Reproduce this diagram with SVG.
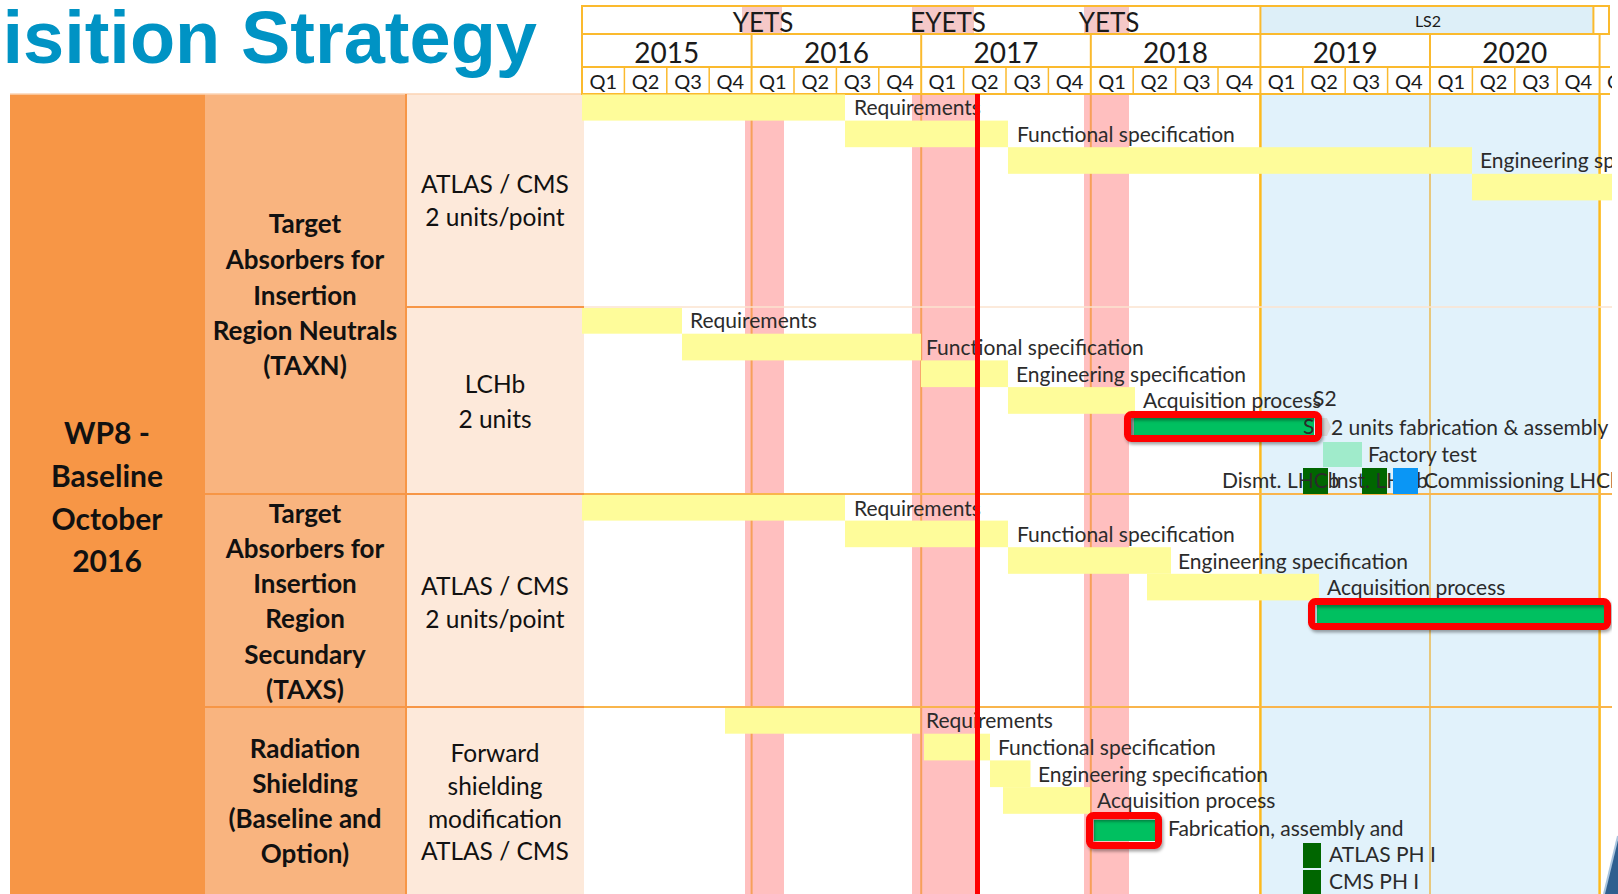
<svg xmlns="http://www.w3.org/2000/svg" width="1618" height="894" viewBox="0 0 1618 894">
  <defs>
    <style>
      .title { font-family: "Liberation Sans", Arial, sans-serif; font-weight: bold; font-size: 74px; fill: #0093C4; }
      .yets { font-family: Lato, "Liberation Sans", sans-serif; font-size: 26px; fill: #1a1a1a; text-anchor: middle; }
      .ls2 { font-family: Lato, "Liberation Sans", sans-serif; font-size: 16px; fill: #1a1a1a; text-anchor: middle; }
      .year { font-family: Lato, "Liberation Sans", sans-serif; font-size: 28px; fill: #1a1a1a; text-anchor: middle; }
      .qtr { font-family: Lato, "Liberation Sans", sans-serif; font-size: 20px; fill: #1a1a1a; text-anchor: middle; }
      .c1 { font-family: Lato, "Liberation Sans", sans-serif; font-weight: bold; font-size: 30px; fill: #111; text-anchor: middle; }
      .c2 { font-family: Lato, "Liberation Sans", sans-serif; font-weight: bold; font-size: 26px; fill: #111; text-anchor: middle; }
      .c3 { font-family: Lato, "Liberation Sans", sans-serif; font-size: 24.5px; fill: #111; text-anchor: middle; }
      .gl { font-family: Lato, "Liberation Sans", sans-serif; font-size: 21px; fill: #2b2b2b; }
      .bar { fill: #FEFC9A; }
      .shut { fill: #FFBFBF; }
      .shuthdr { fill: #F5C8C8; }
      .hline { stroke: #FBBA2E; stroke-width: 2; }
      .qline { stroke: #FBBA2E; stroke-width: 1.5; }
      .yline { stroke: #F7A05A; stroke-width: 2; }
      .gold { stroke: #FDBA1E; stroke-width: 2.5; }
      .tline { stroke: #F79646; stroke-width: 2; }
      .fab { fill: #00C060; }
      .box { fill: none; stroke: #FF0000; stroke-width: 7; filter: url(#shadow); }
      .dk { fill: #006600; }
    </style>
    <filter id="shadow" x="-10%" y="-40%" width="120%" height="180%">
      <feDropShadow dx="1.5" dy="2.5" stdDeviation="1.5" flood-color="#000" flood-opacity="0.35"/>
    </filter>
    <clipPath id="chart">
      <rect x="581" y="0" width="1031" height="894"/>
    </clipPath>
  </defs>

  <rect x="0" y="0" width="1618" height="894" fill="#ffffff"/>

  <!-- slide title -->
  <g id="title">
    <text class="title" x="537" y="63" text-anchor="end">isition Strategy</text>
  </g>

  <!-- left-hand work package table -->
  <g id="wp8">
    <rect x="10" y="94" width="195" height="800" fill="#F79646"/>
    <text class="c1" x="107" y="444">WP8 -</text>
    <text class="c1" x="107" y="487">Baseline</text>
    <text class="c1" x="107" y="530">October</text>
    <text class="c1" x="107" y="572">2016</text>
  </g>

  <g id="taxn">
    <rect x="205" y="94" width="201" height="400" fill="#F9B47F"/>
    <text class="c2" x="305" y="233">Target</text>
    <text class="c2" x="305" y="269">Absorbers for</text>
    <text class="c2" x="305" y="305">Insertion</text>
    <text class="c2" x="305" y="340">Region Neutrals</text>
    <text class="c2" x="305" y="375">(TAXN)</text>
  </g>

  <g id="taxn-atlas-cms">
    <rect x="406" y="94" width="178" height="213" fill="#FDE9DA"/>
    <text class="c3" x="495" y="193">ATLAS / CMS</text>
    <text class="c3" x="495" y="226">2 units/point</text>
  </g>

  <g id="taxn-lchb">
    <rect x="406" y="307" width="178" height="187" fill="#FDE9DA"/>
    <text class="c3" x="495" y="393">LCHb</text>
    <text class="c3" x="495" y="428">2 units</text>
  </g>

  <g id="taxs">
    <rect x="205" y="494" width="201" height="213" fill="#F9B47F"/>
    <text class="c2" x="305" y="523">Target</text>
    <text class="c2" x="305" y="558">Absorbers for</text>
    <text class="c2" x="305" y="593">Insertion</text>
    <text class="c2" x="305" y="628">Region</text>
    <text class="c2" x="305" y="664">Secundary</text>
    <text class="c2" x="305" y="699">(TAXS)</text>
  </g>

  <g id="taxs-atlas-cms">
    <rect x="406" y="494" width="178" height="213" fill="#FDE9DA"/>
    <text class="c3" x="495" y="595">ATLAS / CMS</text>
    <text class="c3" x="495" y="628">2 units/point</text>
  </g>

  <g id="radiation-shielding">
    <rect x="205" y="707" width="201" height="187" fill="#F9B47F"/>
    <text class="c2" x="305" y="758">Radiation</text>
    <text class="c2" x="305" y="793">Shielding</text>
    <text class="c2" x="305" y="828">(Baseline and</text>
    <text class="c2" x="305" y="863">Option)</text>
  </g>

  <g id="forward-shielding">
    <rect x="406" y="707" width="178" height="187" fill="#FDE9DA"/>
    <text class="c3" x="495" y="762">Forward</text>
    <text class="c3" x="495" y="795">shielding</text>
    <text class="c3" x="495" y="828">modification</text>
    <text class="c3" x="495" y="860">ATLAS / CMS</text>
  </g>

  <g id="table-borders">
    <line x1="10" y1="94" x2="584" y2="94" stroke="#FBD3B3" stroke-width="1.5"/>
    <line x1="406" y1="94" x2="406" y2="894" class="tline" stroke-width="1.5"/>
    <line x1="406" y1="307" x2="584" y2="307" class="tline"/>
    <line x1="205" y1="494" x2="584" y2="494" class="tline"/>
    <line x1="205" y1="707" x2="584" y2="707" class="tline"/>
  </g>

  <g clip-path="url(#chart)">
    <!-- timeline heading: shutdown row, years, quarters -->
    <g id="timeline-header">
      <rect x="742" y="7" width="40" height="27" class="shuthdr"/>
      <rect x="912" y="7" width="62" height="27" class="shuthdr"/>
      <rect x="1084" y="7" width="45" height="27" class="shuthdr"/>
      <rect x="1260.4" y="7" width="333" height="27" fill="#DDEFF8"/>
      <line x1="581" y1="6" x2="1610" y2="6" class="hline"/>
      <line x1="581" y1="34" x2="1610" y2="34" class="hline"/>
      <line x1="581" y1="67" x2="1610" y2="67" class="hline"/>
      <line x1="581" y1="94" x2="1610" y2="94" class="hline"/>
      <line x1="582" y1="6" x2="582" y2="94" class="hline"/>
      <line x1="1260.4" y1="6" x2="1260.4" y2="34" class="hline"/>
      <line x1="1593.4" y1="6" x2="1593.4" y2="34" class="hline"/>
      <line x1="1609" y1="6" x2="1609" y2="34" class="hline"/>
      <text class="yets" x="763" y="32">YETS</text>
      <text class="yets" x="948" y="32">EYETS</text>
      <text class="yets" x="1109" y="32">YETS</text>
      <text class="ls2" x="1428" y="27">LS2</text>

      <g class="hline">
        <line x1="751.6" y1="34" x2="751.6" y2="94"/>
        <line x1="921.2" y1="34" x2="921.2" y2="94"/>
        <line x1="1090.8" y1="34" x2="1090.8" y2="94"/>
        <line x1="1260.4" y1="34" x2="1260.4" y2="94"/>
        <line x1="1430" y1="34" x2="1430" y2="94"/>
        <line x1="1599.6" y1="34" x2="1599.6" y2="94"/>
      </g>
      <text class="year" x="666.8" y="63">2015</text>
      <text class="year" x="836.4" y="63">2016</text>
      <text class="year" x="1006" y="63">2017</text>
      <text class="year" x="1175.6" y="63">2018</text>
      <text class="year" x="1345.2" y="63">2019</text>
      <text class="year" x="1514.8" y="63">2020</text>

      <g class="qline">
        <line x1="624.4" y1="67" x2="624.4" y2="94"/>
        <line x1="666.8" y1="67" x2="666.8" y2="94"/>
        <line x1="709.2" y1="67" x2="709.2" y2="94"/>
        <line x1="794" y1="67" x2="794" y2="94"/>
        <line x1="836.4" y1="67" x2="836.4" y2="94"/>
        <line x1="878.8" y1="67" x2="878.8" y2="94"/>
        <line x1="963.6" y1="67" x2="963.6" y2="94"/>
        <line x1="1006" y1="67" x2="1006" y2="94"/>
        <line x1="1048.4" y1="67" x2="1048.4" y2="94"/>
        <line x1="1133.2" y1="67" x2="1133.2" y2="94"/>
        <line x1="1175.6" y1="67" x2="1175.6" y2="94"/>
        <line x1="1218" y1="67" x2="1218" y2="94"/>
        <line x1="1302.8" y1="67" x2="1302.8" y2="94"/>
        <line x1="1345.2" y1="67" x2="1345.2" y2="94"/>
        <line x1="1387.6" y1="67" x2="1387.6" y2="94"/>
        <line x1="1472.4" y1="67" x2="1472.4" y2="94"/>
        <line x1="1514.8" y1="67" x2="1514.8" y2="94"/>
        <line x1="1557.2" y1="67" x2="1557.2" y2="94"/>
      </g>
      <text class="qtr" x="603.2" y="89">Q1</text>
      <text class="qtr" x="645.6" y="89">Q2</text>
      <text class="qtr" x="688" y="89">Q3</text>
      <text class="qtr" x="730.4" y="89">Q4</text>
      <text class="qtr" x="772.8" y="89">Q1</text>
      <text class="qtr" x="815.2" y="89">Q2</text>
      <text class="qtr" x="857.6" y="89">Q3</text>
      <text class="qtr" x="900" y="89">Q4</text>
      <text class="qtr" x="942.4" y="89">Q1</text>
      <text class="qtr" x="984.8" y="89">Q2</text>
      <text class="qtr" x="1027.2" y="89">Q3</text>
      <text class="qtr" x="1069.6" y="89">Q4</text>
      <text class="qtr" x="1112" y="89">Q1</text>
      <text class="qtr" x="1154.4" y="89">Q2</text>
      <text class="qtr" x="1196.8" y="89">Q3</text>
      <text class="qtr" x="1239.2" y="89">Q4</text>
      <text class="qtr" x="1281.6" y="89">Q1</text>
      <text class="qtr" x="1324" y="89">Q2</text>
      <text class="qtr" x="1366.4" y="89">Q3</text>
      <text class="qtr" x="1408.8" y="89">Q4</text>
      <text class="qtr" x="1451.2" y="89">Q1</text>
      <text class="qtr" x="1493.6" y="89">Q2</text>
      <text class="qtr" x="1536" y="89">Q3</text>
      <text class="qtr" x="1578.4" y="89">Q4</text>
      <text class="qtr" x="1620.8" y="89">Q1</text>
    </g>

    <!-- chart background: shutdown periods and grid -->
    <g id="grid">
      <rect x="584" y="95" width="1028" height="799" fill="#ffffff"/>
      <rect x="745" y="95" width="39" height="799" class="shut"/>
      <rect x="912" y="95" width="65" height="799" class="shut"/>
      <rect x="1084" y="95" width="45" height="799" class="shut"/>
      <rect x="1260.4" y="95" width="339.2" height="799" fill="#E1F2FB"/>
      <line x1="751.6" y1="95" x2="751.6" y2="894" class="yline"/>
      <line x1="921.2" y1="95" x2="921.2" y2="894" class="yline"/>
      <line x1="1090.8" y1="95" x2="1090.8" y2="894" class="yline"/>
      <line x1="1260.4" y1="95" x2="1260.4" y2="894" class="gold"/>
      <line x1="1430" y1="95" x2="1430" y2="894" stroke="#E8C87C" stroke-width="2"/>
      <line x1="1599.6" y1="95" x2="1599.6" y2="894" class="gold" stroke-width="2"/>
      <line x1="584" y1="307" x2="1612" y2="307" stroke="#FBE3CF" stroke-width="1.5"/>
      <line x1="584" y1="494" x2="1612" y2="494" stroke="#F9B54C" stroke-width="2"/>
      <line x1="584" y1="707" x2="1612" y2="707" stroke="#F9B54C" stroke-width="2"/>
    </g>

    <g id="gantt-taxn-atlas-cms">
      <rect class="bar" x="582" y="94.5" width="263" height="26.1"/>
      <rect class="bar" x="845" y="120.6" width="163" height="26.6"/>
      <rect class="bar" x="1008" y="147.2" width="464" height="26.6"/>
      <rect class="bar" x="1472" y="173.8" width="140" height="26.6"/>
      <text class="gl" x="854" y="115">Requirements</text>
      <text class="gl" x="1017" y="141.5">Functional specification</text>
      <text class="gl" x="1480" y="168">Engineering specification</text>
    </g>

    <g id="gantt-taxn-lchb">
      <rect class="bar" x="582" y="308" width="100" height="25.7"/>
      <rect class="bar" x="682" y="333.7" width="239" height="26.7"/>
      <rect class="bar" x="921" y="360.4" width="87" height="26.7"/>
      <rect class="bar" x="1008" y="387.1" width="127" height="26.7"/>
      <text class="gl" x="690" y="328">Requirements</text>
      <text class="gl" x="926" y="355">Functional specification</text>
      <text class="gl" x="1016" y="381.5">Engineering specification</text>
      <text class="gl" x="1143" y="408">Acquisition process</text>
      <text class="gl" x="1313" y="406" font-size="19">S2</text>
      <path d="M1319,418 L1327,418 L1331,427 L1327,436 L1319,436 Z" fill="#D8D8D8"/>
      <rect class="fab" x="1133" y="418" width="181" height="18"/>
      <rect x="1131" y="418" width="3" height="18" fill="#9a9a9a"/>
      <text class="gl" x="1303" y="434" font-size="19">S</text>
      <rect class="box" x="1127.5" y="414.5" width="191" height="24" rx="4"/>
      <text class="gl" x="1331" y="435">2 units fabrication &amp; assembly</text>
      <rect x="1323" y="442" width="39" height="25" fill="#A0EBCB"/>
      <text class="gl" x="1368" y="461.5">Factory test</text>
      <rect class="dk" x="1303" y="468" width="25" height="26"/>
      <rect class="dk" x="1362" y="468" width="25" height="26"/>
      <text class="gl" x="1222" y="488">Dismt. LHCb</text>
      <text class="gl" x="1331" y="488">Inst. LHCb</text>
      <text class="gl" x="1424" y="488">Commissioning LHCb</text>
      <rect x="1393" y="468" width="25" height="26" fill="#0A96F5"/>
    </g>

    <g id="gantt-taxs-atlas-cms">
      <rect class="bar" x="582" y="495" width="263" height="25.6"/>
      <rect class="bar" x="845" y="520.6" width="163" height="26.6"/>
      <rect class="bar" x="1008" y="547.2" width="163" height="26.6"/>
      <rect class="bar" x="1147" y="573.8" width="172" height="26.6"/>
      <text class="gl" x="854" y="515.5">Requirements</text>
      <text class="gl" x="1017" y="542">Functional specification</text>
      <text class="gl" x="1178" y="568.5">Engineering specification</text>
      <text class="gl" x="1327" y="595">Acquisition process</text>
      <rect class="fab" x="1317" y="605" width="287" height="18.5"/>
      <rect class="box" x="1311.5" y="601.5" width="296" height="25" rx="4"/>
    </g>

    <g id="gantt-forward-shielding">
      <rect class="bar" x="725" y="708" width="195" height="25.7"/>
      <rect class="bar" x="924" y="733.7" width="66" height="26.7"/>
      <rect class="bar" x="990" y="760.4" width="40.5" height="26.7"/>
      <rect class="bar" x="1003" y="787.1" width="87" height="26.7"/>
      <text class="gl" x="926" y="728">Requirements</text>
      <text class="gl" x="998" y="755">Functional specification</text>
      <text class="gl" x="1038" y="781.5">Engineering specification</text>
      <text class="gl" x="1097" y="808">Acquisition process</text>
      <rect class="fab" x="1094" y="820" width="62" height="21"/>
      <rect class="box" x="1089.5" y="815.5" width="69" height="30" rx="4"/>
      <text class="gl" x="1168" y="835.5">Fabrication, assembly and</text>
      <rect class="dk" x="1303" y="843" width="18" height="25"/>
      <rect class="dk" x="1303" y="870" width="18" height="24"/>
      <text class="gl" x="1329" y="862">ATLAS PH I</text>
      <text class="gl" x="1329" y="889">CMS PH I</text>
    </g>

    <!-- status date marker -->
    <rect id="status-date" x="975" y="94" width="5" height="800" fill="#FF0000"/>
  </g>

  <!-- slide corner decoration -->
  <polygon points="1604,894 1618,836 1618,894" fill="#2F5F8F"/>
  <line x1="1604" y1="894" x2="1618" y2="836" stroke="#A9C4DE" stroke-width="2"/>
</svg>
